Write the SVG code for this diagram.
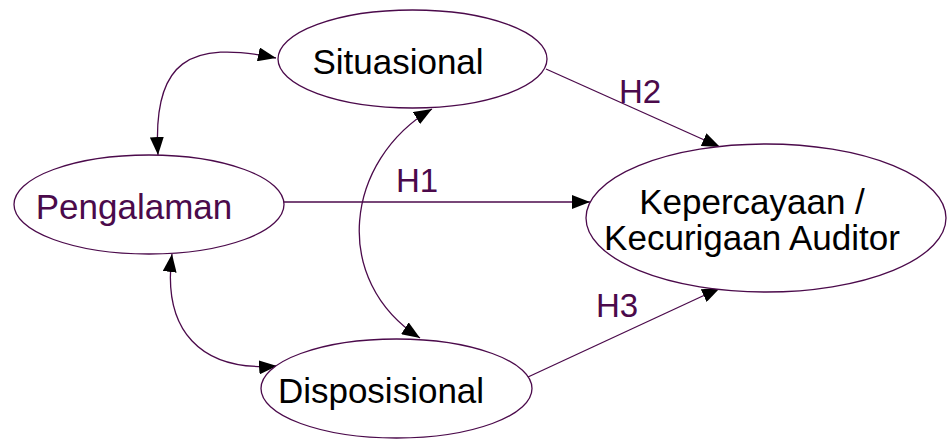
<svg xmlns="http://www.w3.org/2000/svg" width="947" height="439" viewBox="0 0 947 439">
<style>
.node{fill:#fff;stroke:#4b0a4b;stroke-width:1.3}
.lbl{font-family:"Liberation Sans",Arial,sans-serif;font-size:35px;text-anchor:middle}
.blk{fill:#000}
.pur{fill:#4b0a4b}
.h{font-family:"Liberation Sans",Arial,sans-serif;font-size:33px;fill:#4b0a4b}
.edge{fill:none;stroke:#4b0a4b;stroke-width:1.3}
</style>
<defs>
<marker id="arr" viewBox="0 0 18 14" refX="18" refY="7" markerWidth="18" markerHeight="14" markerUnits="userSpaceOnUse" orient="auto-start-reverse">
<path d="M0,0 L18,7 L0,14 Z" fill="#000"/>
</marker>
</defs>
<rect width="947" height="439" fill="#fff"/>
<g id="connectors">
<path class="edge" d="M284,202 L590,202" marker-end="url(#arr)"/>
<path class="edge" d="M546,69 L720,147" marker-end="url(#arr)"/>
<path class="edge" d="M528,377 L720,288" marker-end="url(#arr)"/>
<path class="edge" d="M276,58 C190,40 152,60 158,155" marker-start="url(#arr)" marker-end="url(#arr)"/>
<path class="edge" d="M172,254 C162,330 200,372 277,366" marker-start="url(#arr)" marker-end="url(#arr)"/>
<path class="edge" d="M432,109 C345,160 330,280 420,338" marker-start="url(#arr)" marker-end="url(#arr)"/>
</g>
<g id="node-situasional">
<ellipse class="node" cx="412.5" cy="59" rx="134.5" ry="49"/>
<text class="lbl blk" x="398" y="74">Situasional</text>
</g>
<g id="node-pengalaman">
<ellipse class="node" cx="149" cy="204.5" rx="135" ry="49.5"/>
<text class="lbl pur" x="134" y="219">Pengalaman</text>
</g>
<g id="node-disposisional">
<ellipse class="node" cx="396.5" cy="388.5" rx="135.5" ry="49.5"/>
<text class="lbl blk" x="381" y="403">Disposisional</text>
</g>
<g id="node-kepercayaan">
<ellipse class="node" cx="766" cy="218" rx="180" ry="74"/>
<text class="lbl blk" x="752" y="214">Kepercayaan /</text>
<text class="lbl blk" x="752" y="250">Kecurigaan Auditor</text>
</g>
<g id="edge-labels">
<text class="h" x="396" y="192">H1</text>
<text class="h" x="619" y="103">H2</text>
<text class="h" x="596" y="317">H3</text>
</g>
</svg>
